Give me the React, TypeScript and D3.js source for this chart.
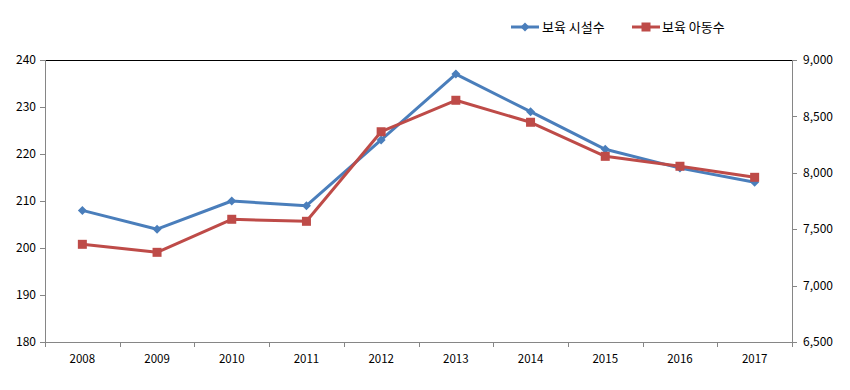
import React from "react";
import * as d3 from "d3";

const years = ["2008", "2009", "2010", "2011", "2012", "2013", "2014", "2015", "2016", "2017"];
const facilities = [208, 204, 210, 209, 223, 237, 229, 221, 217, 214];
const children = [7366, 7295, 7588, 7570, 8364, 8643, 8448, 8146, 8058, 7960];
const leftTicks = [180, 190, 200, 210, 220, 230, 240];
const rightTicks = [6500, 7000, 7500, 8000, 8500, 9000];
const seriesNames = ["보육 시설수", "보육 아동수"];

const W = 850, H = 390;
const L = 45, R = 792, T = 60, B = 342;
const BLUE = "#4A7EBB";
const RED = "#BE4B48";
const FONT = "'Noto Sans CJK KR', 'DejaVu Sans', sans-serif";

export default function App() {
  const x = d3.scaleBand<string>().domain(years).range([L, R]);
  const yL = d3.scaleLinear().domain([180, 240]).range([B, T]);
  const yR = d3.scaleLinear().domain([6500, 9000]).range([B, T]);
  const cx = (d: string) => (x(d) as number) + x.bandwidth() / 2;
  const lineL = d3.line<number>().x((_, i) => cx(years[i])).y((v) => yL(v));
  const lineR = d3.line<number>().x((_, i) => cx(years[i])).y((v) => yR(v));
  const fmt = d3.format(",");
  const diamond = (px: number, py: number, s: number) =>
    `M${px},${py - s}L${px + s},${py}L${px},${py + s}L${px - s},${py}Z`;

  return (
    <svg width={W} height={H} style={{ position: "absolute", left: 0, top: 0 }} fontFamily={FONT}>
      <rect width={W} height={H} fill="#fff" />
      {/* top border */}
      <line x1={L} x2={R} y1={T + 0.5} y2={T + 0.5} stroke="#000" strokeWidth={1} />
      {/* left axis */}
      <line x1={L + 0.5} x2={L + 0.5} y1={T} y2={B} stroke="#868686" />
      {leftTicks.map((t) => (
        <g key={"l" + t}>
          <line x1={L - 5} x2={L} y1={Math.round(yL(t)) + 0.5} y2={Math.round(yL(t)) + 0.5} stroke="#868686" />
          <text x={36} y={yL(t)} dy="0.35em" textAnchor="end" fontSize={12} fill="#000">{t}</text>
        </g>
      ))}
      {/* right axis */}
      <line x1={R + 0.5} x2={R + 0.5} y1={T} y2={B} stroke="#868686" />
      {rightTicks.map((t) => (
        <g key={"r" + t}>
          <line x1={R} x2={R + 5} y1={Math.round(yR(t)) + 0.5} y2={Math.round(yR(t)) + 0.5} stroke="#868686" />
          <text x={803} y={yR(t)} dy="0.35em" textAnchor="start" fontSize={12} fill="#000">{fmt(t)}</text>
        </g>
      ))}
      {/* bottom axis */}
      <line x1={L} x2={R} y1={B + 0.5} y2={B + 0.5} stroke="#868686" />
      {years.map((y) => (
        <line key={"bt" + y} x1={Math.round(x(y) as number) + 0.5} x2={Math.round(x(y) as number) + 0.5} y1={B} y2={B + 5} stroke="#868686" />
      ))}
      <line x1={R + 0.5} x2={R + 0.5} y1={B} y2={B + 5} stroke="#868686" />
      {years.map((y) => (
        <text key={"xl" + y} x={cx(y)} y={359} dy="0.35em" textAnchor="middle" fontSize={11.5} fill="#000">{y}</text>
      ))}
      {/* series */}
      <path d={lineL(facilities) as string} fill="none" stroke={BLUE} strokeWidth={3} strokeLinejoin="round" />
      {facilities.map((v, i) => (
        <path key={"d" + i} d={diamond(cx(years[i]), yL(v), 4.5)} fill={BLUE} />
      ))}
      <path d={lineR(children) as string} fill="none" stroke={RED} strokeWidth={3} strokeLinejoin="round" />
      {children.map((v, i) => (
        <rect key={"s" + i} x={cx(years[i]) - 4.5} y={yR(v) - 4.5} width={9} height={9} fill={RED} />
      ))}
      {/* legend */}
      <g>
        <line x1={511} x2={539} y1={27} y2={27} stroke={BLUE} strokeWidth={3} />
        <path d={diamond(525, 27, 4.5)} fill={BLUE} />
        <text x={542} y={27} dy="0.35em" fontSize={13} fill="#000">{seriesNames[0]}</text>
        <line x1={632} x2={660} y1={27} y2={27} stroke={RED} strokeWidth={3} />
        <rect x={641.5} y={22.5} width={9} height={9} fill={RED} />
        <text x={662} y={27} dy="0.35em" fontSize={13} fill="#000">{seriesNames[1]}</text>
      </g>
    </svg>
  );
}
